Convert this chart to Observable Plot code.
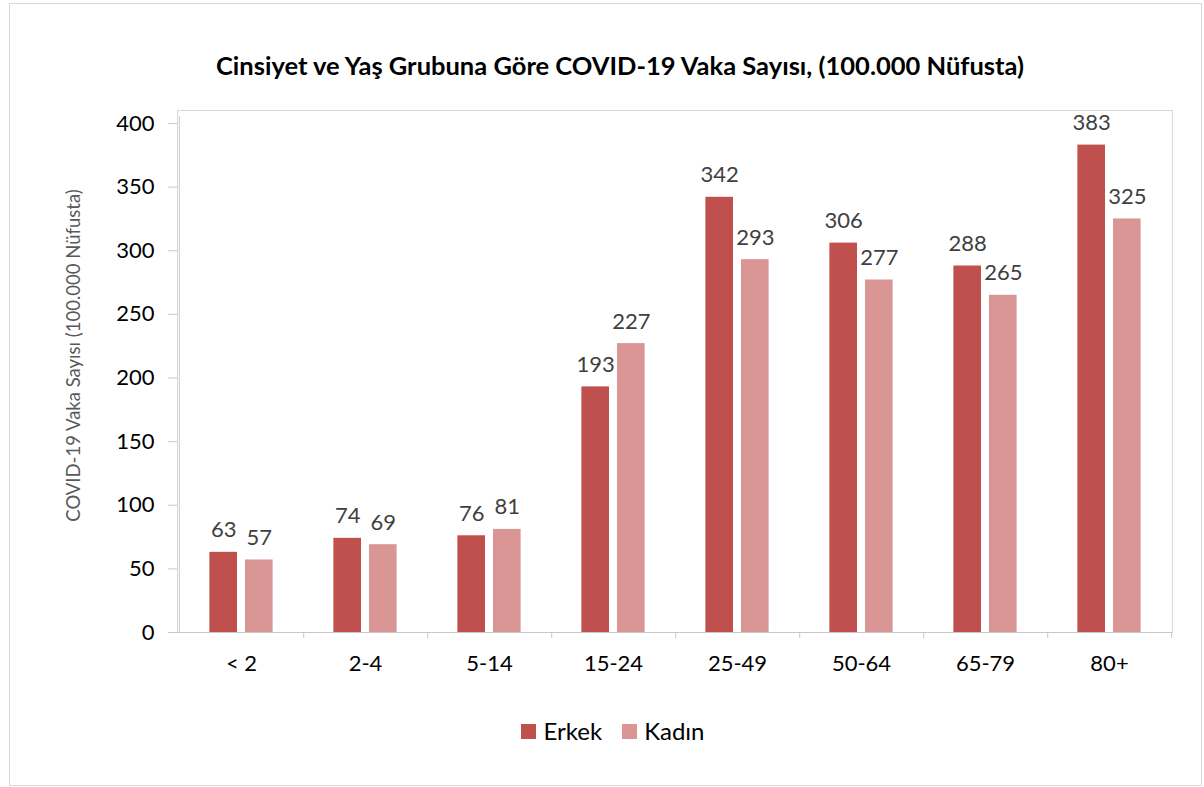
<!DOCTYPE html>
<html>
<head>
<meta charset="utf-8">
<script src="https://cdn.jsdelivr.net/npm/d3@7"></script>
<script src="https://cdn.jsdelivr.net/npm/@observablehq/plot@0.6"></script>
<style>
  html, body { margin: 0; padding: 0; background: #fff; }
  body { width: 1204px; height: 787px; position: relative; overflow: hidden; font-family: Lato, "Open Sans", sans-serif; }
  #border { position: absolute; left: 9px; top: 3px; width: 1193px; height: 783px; box-sizing: border-box; border: 1px solid #d9d9d9; pointer-events: none; }
  #title { height: 90px; box-sizing: border-box; padding-top: 50px; text-align: center; font-weight: bold; font-size: 25.5px; line-height: 30px; color: #000; padding-left: 36px; }
  #legend { height: 60px; box-sizing: border-box; margin-top: 27px; display: flex; justify-content: center; align-items: flex-start; gap: 20px; font-size: 24px; line-height: 28px; color: #000; padding-left: 22px; }
  .item { display: flex; align-items: center; gap: 7px; }
  .sw { width: 15px; height: 15px; display: inline-block; }
</style>
</head>
<body>
<div id="title"></div>
<div id="chart"></div>
<div id="legend"></div>
<div id="border"></div>
<script>
const titleText = "Cinsiyet ve Yaş Grubuna Göre COVID-19 Vaka Sayısı, (100.000 Nüfusta)";
const yLabel = "COVID-19 Vaka Sayısı (100.000 Nüfusta)";
const categories = ["< 2", "2-4", "5-14", "15-24", "25-49", "50-64", "65-79", "80+"];
const erkek = [63, 74, 76, 193, 342, 306, 288, 383];
const kadin = [57, 69, 81, 227, 293, 277, 265, 325];
const seriesNames = ["Erkek", "Kadın"];
const seriesColors = ["#C0504D", "#D99694"];
const yTicks = [0, 50, 100, 150, 200, 250, 300, 350, 400];

document.getElementById("title").textContent = titleText;

const dataE = categories.map((c, i) => ({cat: c, value: erkek[i]}));
const dataK = categories.map((c, i) => ({cat: c, value: kadin[i]}));

const W = 1204, ML = 177, MR = 32;
const bw = (W - ML - MR) / categories.length;
const barW = 28;
const inset = (bw - barW) / 2;
const off = 17.8;

const labelStyle = {fontSize: 22, fill: "#404040", lineAnchor: "bottom", dy: -15, fontFamily: "Lato, 'Open Sans', sans-serif"};

const chart = Plot.plot({
  width: W,
  height: 600,
  marginLeft: ML,
  marginRight: MR,
  marginTop: 20,
  marginBottom: 58,
  style: {fontFamily: "Lato, 'Open Sans', sans-serif", background: "white"},
  x: {type: "band", domain: categories, padding: 0, axis: null},
  y: {domain: [0, 410.2], axis: null},
  marks: [
    Plot.frame({stroke: "#d9d9d9"}),
    Plot.barY(dataE, {x: "cat", y: "value", fill: seriesColors[0], dx: -off, insetLeft: inset, insetRight: inset}),
    Plot.barY(dataK, {x: "cat", y: "value", fill: seriesColors[1], dx: off, insetLeft: inset, insetRight: inset}),
    Plot.text(dataE, {x: "cat", y: "value", text: d => String(d.value), ...labelStyle, dx: -off}),
    Plot.text(dataK, {x: "cat", y: "value", text: d => String(d.value), ...labelStyle, dx: off}),
    Plot.ruleY([0], {stroke: "#c8c8c8"}),
    Plot.ruleX([0], {x: () => categories[0], y1: 0, y2: 410.2, stroke: "#c8c8c8", dx: -bw / 2, insetBottom: -6}),
    Plot.ruleX(categories, {x: d => d, y1: 0, y2: 0, dx: bw / 2, insetBottom: -6, stroke: "#c8c8c8"}),
    Plot.axisX({tickSize: 0, tickPadding: 23, fontSize: 22, fill: "#000", label: null}),
    Plot.axisY({ticks: yTicks, tickSize: 9, tickPadding: 14, fontSize: 22, stroke: "#c8c8c8", fill: "#000", label: null}),
    Plot.text([yLabel], {frameAnchor: "left", text: d => d, rotate: -90, dx: -103, dy: -16, fontSize: 18.5, fill: "#595959", textAnchor: "middle", lineAnchor: "middle"})
  ]
});
document.getElementById("chart").appendChild(chart);

const legend = document.getElementById("legend");
seriesNames.forEach((n, i) => {
  const it = document.createElement("div");
  it.className = "item";
  const sw = document.createElement("span");
  sw.className = "sw";
  sw.style.background = seriesColors[i];
  const t = document.createElement("span");
  t.textContent = n;
  it.appendChild(sw); it.appendChild(t);
  legend.appendChild(it);
});
</script>
</body>
</html>
